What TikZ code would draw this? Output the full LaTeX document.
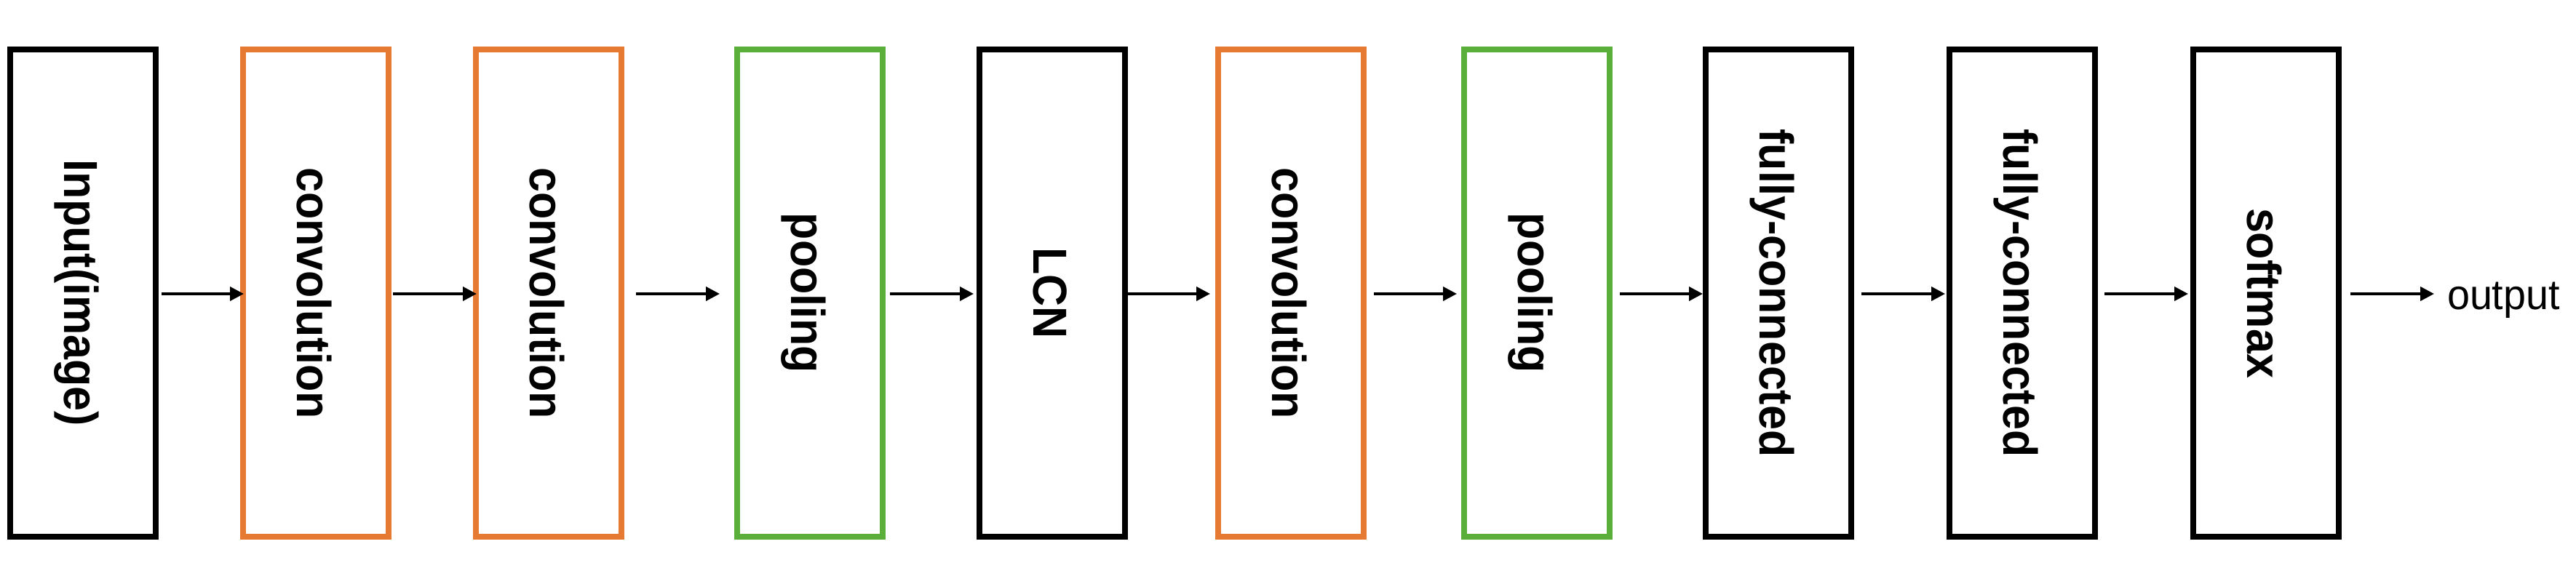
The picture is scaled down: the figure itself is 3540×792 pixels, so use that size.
\documentclass[tikz,border=0pt]{standalone}
\usepackage{fontspec}
\usetikzlibrary{arrows.meta}
\newfontfamily\boxfont{Liberation Sans}[FakeStretch=0.93]
\newfontfamily\outfont{Liberation Sans}[FakeStretch=0.96]
\definecolor{convorange}{RGB}{230,122,51}
\definecolor{poolgreen}{RGB}{90,175,58}
\tikzset{
  layer/.style={draw=black, line width=8pt, minimum width=200pt, minimum height=670pt, inner sep=0pt, outer sep=0pt, fill=none},
  convbox/.style={layer, draw=convorange},
  poolbox/.style={layer, draw=poolgreen},
  lbl/.style={rotate=-90, anchor=base, inner sep=0pt, outer sep=0pt, font=\boxfont\bfseries\fontsize{65.6}{70}\selectfont},
  arr/.style={line width=4pt, -{Triangle[length=19pt,width=19pt]}},
}
\begin{document}
\begin{tikzpicture}[x=1pt,y=-1pt]
\useasboundingbox (0,0) rectangle (3540,792);
% boxes
\node[layer]   (b1)  at (114,403)  {};
\node[convbox] (b2)  at (434,403)  {};
\node[convbox] (b3)  at (754,403)  {};
\node[poolbox] (b4)  at (1113,403) {};
\node[layer]   (b5)  at (1446,403) {};
\node[convbox] (b6)  at (1774,403) {};
\node[poolbox] (b7)  at (2112,403) {};
\node[layer]   (b8)  at (2444,403) {};
\node[layer]   (b9)  at (2779,403) {};
\node[layer]   (b10) at (3114,403) {};
% labels
\node[lbl] (t1)  at (88,403)   {Input(image)};
\node[lbl] (t2)  at (408,403)  {convolution};
\node[lbl] (t3)  at (728,403)  {convolution};
\node[lbl] (t4)  at (1087,403) {pooling};
\node[lbl] (t5)  at (1420,403) {LCN};
\node[lbl] (t6)  at (1748,403) {convolution};
\node[lbl] (t7)  at (2086,403) {pooling};
\node[lbl] (t8)  at (2418,403) {fully-connected};
\node[lbl] (t9)  at (2753,403) {fully-connected};
\node[lbl] (t10) at (3088,403) {softmax};
\node[anchor=base west, inner sep=0pt, outer sep=0pt, font=\outfont\fontsize{58}{64}\selectfont] (out) at (3363,425) {output};
\coordinate (oend) at (3345,404);
% arrows
\draw[arr] ([xshift=8pt,yshift=-1pt]b1.east)  -- ([xshift=1pt,yshift=-1pt]b2.west);
\draw[arr] ([xshift=6pt,yshift=-1pt]b2.east)  -- ([xshift=1pt,yshift=-1pt]b3.west);
\draw[arr] ([xshift=20pt,yshift=-1pt]b3.east) -- ([xshift=-24pt,yshift=-1pt]b4.west);
\draw[arr] ([xshift=10pt,yshift=-1pt]b4.east) -- ([xshift=-8pt,yshift=-1pt]b5.west);
\draw[arr] ([xshift=4pt,yshift=-1pt]b5.east)  -- ([xshift=-11pt,yshift=-1pt]b6.west);
\draw[arr] ([xshift=14pt,yshift=-1pt]b6.east) -- ([xshift=-10pt,yshift=-1pt]b7.west);
\draw[arr] ([xshift=14pt,yshift=-1pt]b7.east) -- ([xshift=-4pt,yshift=-1pt]b8.west);
\draw[arr] ([xshift=14pt,yshift=-1pt]b8.east) -- ([xshift=-6pt,yshift=-1pt]b9.west);
\draw[arr] ([xshift=13pt,yshift=-1pt]b9.east) -- ([xshift=-7pt,yshift=-1pt]b10.west);
\draw[arr] ([xshift=16pt,yshift=-1pt]b10.east) -- (oend);
\end{tikzpicture}
\end{document}
